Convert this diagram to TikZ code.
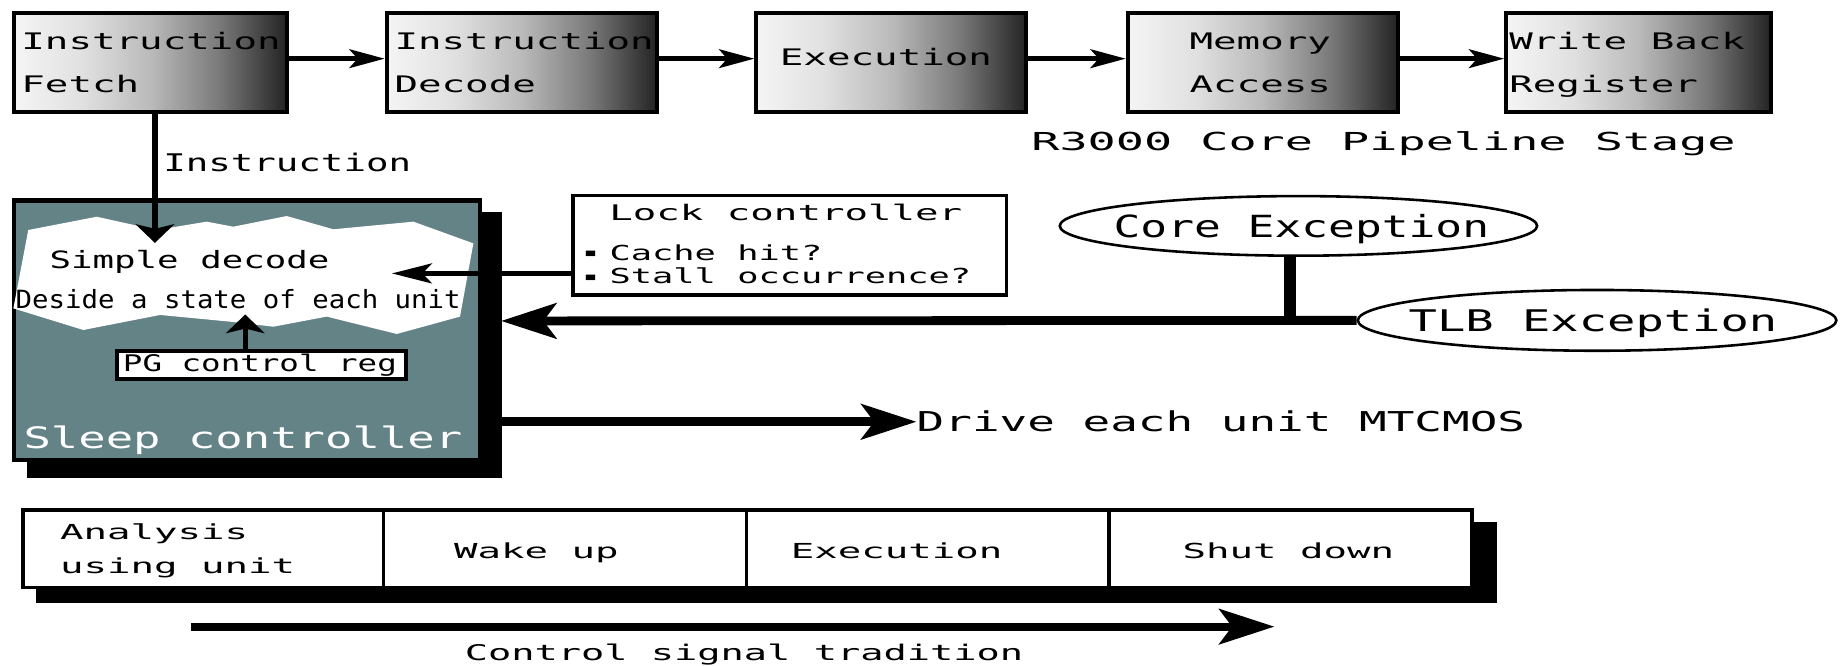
\documentclass[tikz,border=0pt]{standalone}
\usepackage{fontspec}
\usepackage{graphicx}
\usetikzlibrary{arrows.meta,shapes.geometric,calc}

% Gothic-style monospaced lettering, widened by a given factor
\newcommand\gfnt[2]{\fontspec{DejaVu Sans Mono}[FakeStretch=#2]\fontsize{#1pt}{#1pt}\selectfont}
% small square bullet for the lock controller list
\newcommand\sqbullet{\raisebox{2.5pt}{\fontsize{12pt}{12pt}\selectfont▪}}

\definecolor{sleepteal}{RGB}{100,131,135}
\pgfdeclarehorizontalshading{stageshade}{100bp}{%
  color(0bp)=(black!4); color(25bp)=(black!4); color(37.5bp)=(black!12);
  color(50bp)=(black!27); color(62.5bp)=(black!52); color(75bp)=(black!86);
  color(100bp)=(black!86)}

\begin{document}
\begin{tikzpicture}[x=1pt,y=-1pt,
  stage/.style={draw, line width=3.5pt, shading=stageshade, minimum width=230pt,
                minimum height=84.5pt, inner sep=0pt},
  txt/.style={inner sep=0pt},
  stagefont/.style={font=\gfnt{19.4}{1.72}},
  flow/.style={line width=3.8pt, -{Stealth[length=30pt,width=16pt,inset=7pt]}},
  vflow/.style={line width=4.5pt, -{Stealth[length=16pt,width=33pt,inset=4pt]}},
  hflow/.style={line width=3.8pt, -{Stealth[length=34pt,width=17pt,inset=8pt]}},
  bus/.style={line width=7.5pt},
  busarrow/.style={bus, -{Stealth[length=47pt,width=30pt,inset=11pt]}},
  exc/.style={ellipse, draw, line width=2.2pt, inner sep=0pt},
  cell/.style={draw, line width=3pt, fill=white, minimum height=66pt, inner sep=0pt},
  cellfont/.style={font=\gfnt{17.6}{1.89}},
]
\useasboundingbox (0,0) rectangle (1568,567);

% ---------------- pipeline stages ----------------
\node[stage, minimum width=232.5pt] (IF) at (128,53) {};
\node[stage] (ID) at (444.5,53) {};
\node[stage] (EX) at (759.5,53) {};
\node[stage] (MA) at (1076,53) {};
\node[stage, minimum width=226pt] (WB) at (1396.5,53) {};

\node[txt, stagefont, anchor=base west] (IFa) at (18,42.5) {Instruction};
\node[txt, stagefont, anchor=base west] (IFb) at (18,79) {Fetch};
\node[txt, stagefont, anchor=base west] (IDa) at (336,42.5) {Instruction};
\node[txt, stagefont, anchor=base west] (IDb) at (336,79) {Decode};
\node[txt, stagefont, anchor=base] (EXa) at (755,56) {Execution};
\node[txt, stagefont, anchor=base] (MAa) at (1074,42.5) {Memory};
\node[txt, stagefont, anchor=base] (MAb) at (1074,79) {Access};
\node[txt, stagefont, anchor=base west] (WBa) at (1286,42.5) {Write Back};
\node[txt, stagefont, anchor=base west] (WBb) at (1286,79) {Register};

\draw[flow] ([yshift=3pt]IF.east) -- ([yshift=3pt]ID.west);
\draw[flow] ([yshift=3pt]ID.east) -- ([yshift=3pt]EX.west);
\draw[flow] ([yshift=3pt]EX.east) -- ([yshift=3pt]MA.west);
\draw[flow] ([yshift=3pt]MA.east) -- ([yshift=3pt]WB.west);

\node[txt, anchor=base, font=\gfnt{21.1}{1.89}] (r3k) at (1179,128.4) {R3000 Core Pipeline Stage};

% ---------------- sleep controller ----------------
\fill (23,181) rectangle (428,407);
\node[draw, line width=4pt, fill=sleepteal, minimum width=397pt, minimum height=221pt,
      inner sep=0pt] (sleep) at (210.5,281.5) {};
\fill[white] (24.1,196) -- (82.4,184.7) -- (133.5,196) -- (176.1,188.9) -- (198.9,193.2)
  -- (244.3,184.1) -- (284.1,195.4) -- (352.3,188.9) -- (403.4,207.4)
  -- (392,269.8) -- (338.1,284.6) -- (278.4,269.8) -- (233,278.4) -- (196,274.1)
  -- (136.4,268.4) -- (71,281.2) -- (11.4,262.8) -- cycle;

\node[txt, anchor=base, font=\gfnt{20.3}{1.5}] (simple) at (161.5,228.7) {Simple decode};
\node[txt, anchor=base, font=\gfnt{21.4}{1.09}] (deside) at (203,262.8) {Deside a state of each unit};

\node[draw, line width=3.5pt, fill=white, minimum width=246.5pt, minimum height=24.5pt,
      inner sep=0pt] (pg) at (223,311) {};
\node[txt, anchor=base, font=\gfnt{19.5}{1.42}] (pgT) at (221.5,316.7) {PG control reg};
\coordinate (pgTip) at (209,268);
\draw[vflow] (pg.north -| pgTip) -- (pgTip);

\node[txt, anchor=base, text=white, font=\gfnt{25.2}{1.54}] (sleepT) at (207,382) {Sleep controller};

% instruction path into the decoder
\coordinate (instTip) at (132,207);
\draw[vflow] (IF.south -| instTip) -- (instTip);
\node[txt, anchor=base west, font=\gfnt{20.7}{1.54}] (instL) at (139,146.3) {Instruction};

% ---------------- lock controller ----------------
\node[draw, line width=3pt, fill=white, minimum width=369pt, minimum height=85pt,
      inner sep=0pt] (lock) at (673,209) {};
\node[txt, anchor=base west, font=\gfnt{18.3}{1.82}] (lockT) at (519,188) {Lock controller};
\node[txt, anchor=base west, font=\gfnt{17.6}{1.71}] (hit) at (497,221.6) {\sqbullet\hspace{10pt}Cache hit?};
\node[txt, anchor=base west, font=\gfnt{17.6}{1.71}] (stall) at (497,242) {\sqbullet\hspace{10pt}Stall occurrence?};
\coordinate (lockTip) at (334,233);
\draw[hflow] (lock.west |- lockTip) -- (lockTip);

% ---------------- exceptions ----------------
\node[exc, minimum width=406.8pt, minimum height=50.8pt] (core) at (1106.5,192.5) {};
\node[txt, anchor=base, font=\gfnt{26}{1.46}] (coreT) at (1109,202) {Core Exception};
\node[exc, minimum width=407.8pt, minimum height=51.8pt] (tlb) at (1361,273) {};
\node[txt, anchor=base, font=\gfnt{25.4}{1.58}] (tlbT) at (1357.5,282.6) {TLB Exception};

\coordinate (busTip) at (427,273.5);
\coordinate (junc) at (1099,273.5);
\draw[busarrow] (tlb.west) -- (busTip);
\draw[bus, line width=10pt] (core.south -| junc) -- (junc);

% ---------------- drive output ----------------
\node[txt, anchor=west, font=\gfnt{23.3}{1.68}] (drive) at (781,359.4) {Drive each unit MTCMOS};
\draw[busarrow] (sleep.east |- drive.west) -- (drive.west);

% ---------------- control sequence ----------------
\fill (31,445) rectangle (1276,514);
\node[cell, minimum width=307.5pt] (c1) at (173.25,467.5) {};
\node[cell, minimum width=309pt] (c2) at (481.5,467.5) {};
\node[cell, minimum width=309pt] (c3) at (790.5,467.5) {};
\node[cell, minimum width=309.5pt] (c4) at (1099.75,467.5) {};

\node[txt, cellfont, anchor=base west] (anA) at (51,460) {Analysis};
\node[txt, cellfont, anchor=base west] (anB) at (51,488.6) {using unit};
\node[txt, cellfont, anchor=base] (wake) at (457,475.8) {Wake up};
\node[txt, cellfont, anchor=base] (exec) at (764,475.8) {Execution};
\node[txt, cellfont, anchor=base] (shut) at (1098,475.8) {Shut down};

\coordinate (ctlFrom) at (163,534);
\coordinate (ctlTo) at (1086,534);
\draw[busarrow, line width=7pt] (ctlFrom) -- (ctlTo);
\node[txt, anchor=base, font=\gfnt{18.4}{1.79}] (ctlT) at (634,563) {Control signal tradition};
\end{tikzpicture}
\end{document}
